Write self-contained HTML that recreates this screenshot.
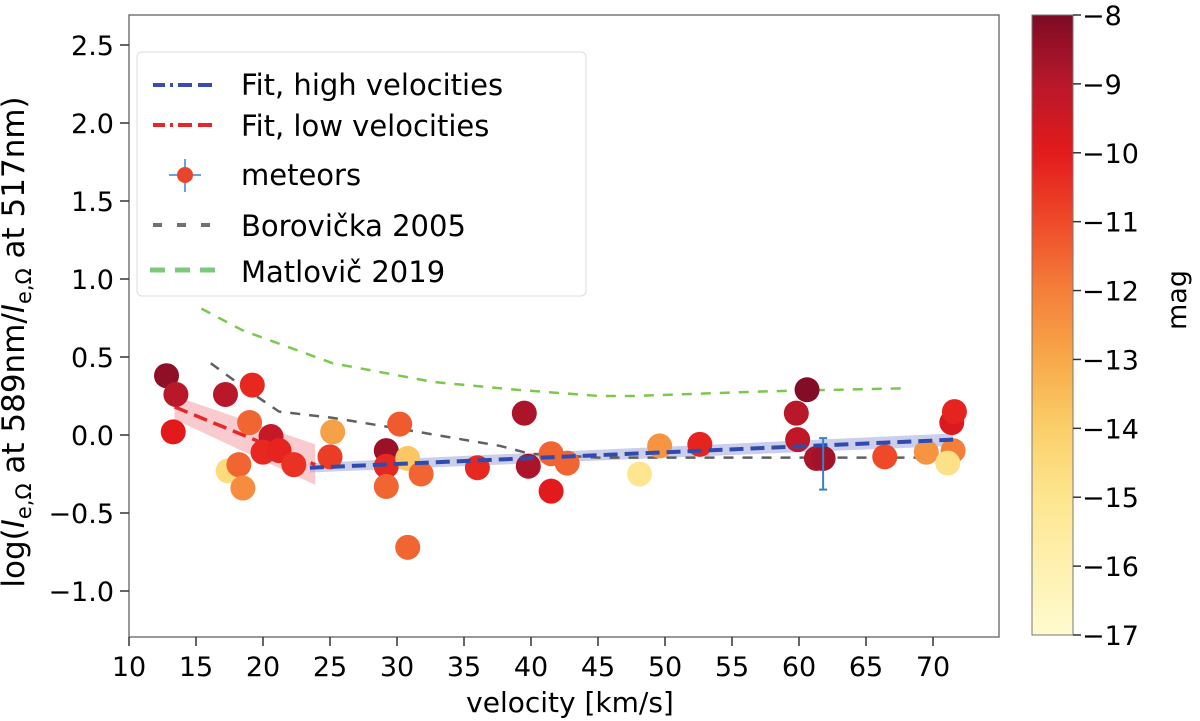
<!DOCTYPE html>
<html><head><meta charset="utf-8"><style>
body{margin:0;background:#fff}
svg{display:block;font-family:"DejaVu Sans","Liberation Sans",sans-serif}
</style></head><body>
<svg id="chart" width="1200" height="721" viewBox="0 0 1200 721">
<defs>
<linearGradient id="cmap" x1="0" y1="1" x2="0" y2="0">
<stop offset="0" stop-color="#fffbd0"/><stop offset="0.222" stop-color="#fde68f"/><stop offset="0.333" stop-color="#fbcf6a"/>
<stop offset="0.444" stop-color="#f7a94a"/><stop offset="0.556" stop-color="#f47f3a"/><stop offset="0.667" stop-color="#ee4a2a"/>
<stop offset="0.778" stop-color="#e31a1c"/><stop offset="0.889" stop-color="#b8182a"/><stop offset="1" stop-color="#7d0b25"/>
</linearGradient>
<clipPath id="plotclip"><rect x="129" y="15" width="870" height="622"/></clipPath>
</defs>
<g id="plot" clip-path="url(#plotclip)"></g>
<rect x="129" y="15" width="870" height="622" fill="none" stroke="#555" stroke-width="1.2"/>
<g id="axes"></g>
<text x="24" y="342" font-size="31" text-anchor="middle" transform="rotate(-90 24 342)">log(<tspan font-style="italic">I</tspan><tspan font-size="21" dy="7">e,Ω</tspan><tspan dy="-7"> at 589nm/</tspan><tspan font-style="italic">I</tspan><tspan font-size="21" dy="7">e,Ω</tspan><tspan dy="-7"> at 517nm)</tspan></text>
<text x="570" y="712" font-size="28" text-anchor="middle">velocity [km/s]</text>
<g>
<rect x="137" y="52" width="449" height="244" rx="5" fill="#fff" fill-opacity="0.85" stroke="#ddd"/>
<line x1="153" y1="85" x2="213" y2="85" stroke="#3b4bb0" stroke-width="4" stroke-dasharray="12,5,3,5,14,6,14,6"/>
<text x="241" y="95" font-size="29">Fit, high velocities</text>
<line x1="153" y1="125" x2="213" y2="125" stroke="#e8262a" stroke-width="4" stroke-dasharray="12,5,3,5,14,6,14,6"/>
<text x="241" y="136" font-size="29">Fit, low velocities</text>
<line x1="169" y1="175" x2="201" y2="175" stroke="#3a80c8" stroke-width="1.5"/>
<line x1="185" y1="159" x2="185" y2="192" stroke="#3a80c8" stroke-width="1.5"/>
<circle cx="185" cy="175" r="8" fill="#e8452a"/>
<text x="241" y="185" font-size="29">meteors</text>
<line x1="153" y1="225" x2="218" y2="225" stroke="#707070" stroke-width="4" stroke-dasharray="9,15"/>
<text x="241" y="236" font-size="29">Borovička 2005</text>
<line x1="150" y1="270" x2="218" y2="270" stroke="#7cc87c" stroke-width="5" stroke-dasharray="15,10"/>
<text x="241" y="282" font-size="29">Matlovič 2019</text>
</g>
<rect x="1032" y="15" width="41" height="620" fill="url(#cmap)" stroke="#777"/>
<g id="cbticks"></g>
<text x="1186" y="300" font-size="27" text-anchor="middle" transform="rotate(-90 1186 300)">mag</text>
</svg>
<script>
const velocities=[12.8,13.5,13.3,17.2,19.2,19.0,20.6,20.0,21.2,22.3,17.4,18.2,18.5,25.2,25.0,29.2,29.2,29.2,30.2,30.8,31.8,30.8,36.0,39.5,39.8,41.5,42.7,41.5,48.1,49.6,52.6,60.6,59.8,59.9,61.3,61.8,66.4,69.5,71.5,71.1,71.4,71.6];
const ratios=[0.38,0.26,0.02,0.26,0.32,0.08,-0.01,-0.11,-0.10,-0.19,-0.23,-0.19,-0.34,0.02,-0.14,-0.10,-0.20,-0.33,0.07,-0.15,-0.25,-0.72,-0.21,0.14,-0.20,-0.12,-0.18,-0.36,-0.25,-0.07,-0.06,0.29,0.14,-0.03,-0.15,-0.15,-0.14,-0.11,-0.10,-0.18,0.08,0.15];
const mags=[-8.3,-9,-10,-9,-10.3,-11.5,-9.3,-10.3,-10.2,-10.5,-14.5,-11.5,-12.3,-12.8,-10.7,-8.5,-10.3,-11.5,-11.3,-13.8,-11.5,-11.5,-10.3,-8.8,-8.8,-11.5,-11.5,-10,-15,-12.5,-10.2,-8.1,-9,-9.2,-8.8,-8.6,-11,-12.5,-12,-14.8,-9.8,-10.2];
const borovickaV=[16.1,18.8,21.2,25.2,30.2,37.7,39.9,45,55,65,71];
const borovickaY=[0.46,0.29,0.15,0.11,0.04,-0.07,-0.12,-0.145,-0.145,-0.145,-0.145];
const matlovicV=[15.4,18.5,25.2,32.7,38.9,45.1,47.6,57.6,68.1];
const matlovicY=[0.81,0.67,0.46,0.34,0.29,0.25,0.25,0.28,0.30];
const fitHighV=[23.5,71.5], fitHighY=[-0.21,-0.03], fitHighErr=[0.03,0.04];
const fitLowV=[13.4,23.9], fitLowY=[0.18,-0.19], fitLowUp=[0.25,-0.06], fitLowDn=[0.10,-0.32];
const errV=[61.8], errY=[-0.15], errLo=[-0.35], errHi=[-0.02];
const xTicks=[10,15,20,25,30,35,40,45,50,55,60,65,70];
const yTicks=[-1.0,-0.5,0.0,0.5,1.0,1.5,2.0,2.5];
const cbTicks=[-8,-9,-10,-11,-12,-13,-14,-15,-16,-17];
const X=v=>129+(v-10)*13.4, Y=r=>435-r*156, CB=m=>15+(-8-m)*(620/9);
const NS='http://www.w3.org/2000/svg';
function mk(t,a,p){const e=document.createElementNS(NS,t);for(const k in a)e.setAttribute(k,a[k]);p.appendChild(e);return e;}
const plot=document.getElementById('plot'),axes=document.getElementById('axes'),cbg=document.getElementById('cbticks');
const stops=[[-17,[255,251,208]],[-15,[253,230,143]],[-14,[251,207,106]],[-13,[247,169,74]],[-12,[244,127,58]],[-11,[238,74,42]],[-10,[227,26,28]],[-9,[184,24,42]],[-8,[125,11,37]]];
function cmap(m){for(let i=0;i<stops.length-1;i++){const a=stops[i],b=stops[i+1];if(m<=b[0]||i==stops.length-2){const t=Math.max(0,Math.min(1,(m-a[0])/(b[0]-a[0])));return 'rgb('+a[1].map((c,j)=>Math.round(c+(b[1][j]-c)*t)).join(',')+')';}}}
let e;
e=mk('polygon',{points:[X(fitLowV[0])+','+Y(fitLowUp[0]),X(fitLowV[1])+','+Y(fitLowUp[1]),X(fitLowV[1])+','+Y(fitLowDn[1]),X(fitLowV[0])+','+Y(fitLowDn[0])].join(' '),fill:'#f4a0a8','fill-opacity':0.55},plot);


e=mk('polygon',{points:[X(fitHighV[0])+','+Y(fitHighY[0]+fitHighErr[0]),X(fitHighV[1])+','+Y(fitHighY[1]+fitHighErr[1]),X(fitHighV[1])+','+Y(fitHighY[1]-fitHighErr[1]),X(fitHighV[0])+','+Y(fitHighY[0]-fitHighErr[0])].join(' '),fill:'#9aa0d8','fill-opacity':0.5},plot);


e=mk('polyline',{points:matlovicV.map((v,i)=>X(v)+','+Y(matlovicY[i])).join(' '),fill:'none',stroke:'#7cc84e','stroke-width':2.5,'stroke-dasharray':'10,9'},plot);


e=mk('polyline',{points:borovickaV.map((v,i)=>X(v)+','+Y(borovickaY[i])).join(' '),fill:'none',stroke:'#606060','stroke-width':2.5,'stroke-dasharray':'10,9'},plot);


e=mk('line',{x1:X(fitLowV[0]),y1:Y(fitLowY[0]),x2:X(fitLowV[1]),y2:Y(fitLowY[1]),stroke:'#e8262a','stroke-width':3.5,'stroke-dasharray':'14,7'},plot);


velocities.forEach((v,i)=>{const c=mk('circle',{cx:X(v),cy:Y(ratios[i]),r:12.5,fill:cmap(mags[i])},plot);

});
e=mk('line',{x1:X(fitHighV[0]),y1:Y(fitHighY[0]),x2:X(fitHighV[1]),y2:Y(fitHighY[1]),stroke:'#2f4bb0','stroke-width':4,'stroke-dasharray':'14,7'},plot);


errV.forEach((v,i)=>{const g=mk('g',{stroke:'#3a80c8','stroke-width':2},plot);


mk('line',{x1:X(v),y1:Y(errLo[i]),x2:X(v),y2:Y(errHi[i])},g);
mk('line',{x1:X(v)-4,y1:Y(errLo[i]),x2:X(v)+4,y2:Y(errLo[i])},g);
mk('line',{x1:X(v)-4,y1:Y(errHi[i]),x2:X(v)+4,y2:Y(errHi[i])},g);});
xTicks.forEach(t=>{mk('line',{x1:X(t),y1:637,x2:X(t),y2:646,stroke:'#333','stroke-width':1.5},axes);
const s=mk('text',{x:X(t),y:676,'font-size':27,'text-anchor':'middle'},axes);s.textContent=t;

});
yTicks.forEach(t=>{mk('line',{x1:120,y1:Y(t),x2:129,y2:Y(t),stroke:'#333','stroke-width':1.5},axes);
const s=mk('text',{x:114,y:Y(t)+10,'font-size':27,'text-anchor':'end'},axes);s.textContent=t<0?'\u2212'+Math.abs(t).toFixed(1):t.toFixed(1);

});
cbTicks.forEach(t=>{mk('line',{x1:1073,y1:CB(t),x2:1081,y2:CB(t),stroke:'#333','stroke-width':1.5},cbg);
const s=mk('text',{x:1082,y:CB(t)+10,'font-size':27},cbg);s.textContent='\u2212'+Math.abs(t);

});
</script>
</body></html>
